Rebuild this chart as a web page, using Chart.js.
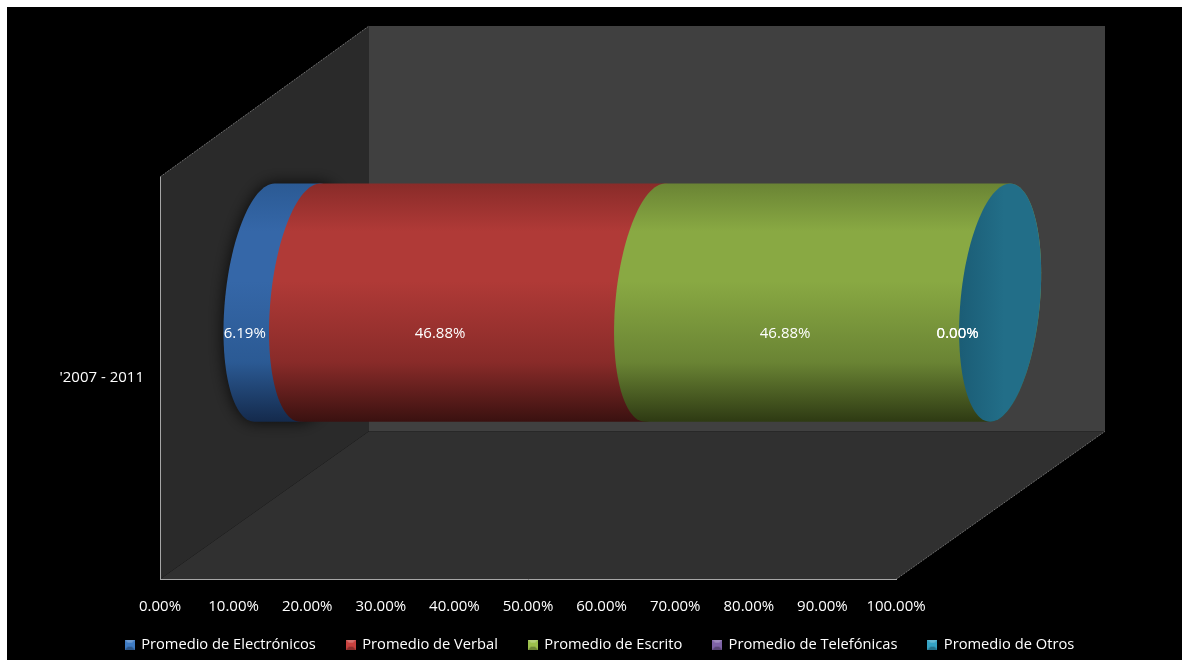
<!DOCTYPE html>
<html>
<head>
<meta charset="utf-8">
<title>Promedio 2007 - 2011</title>
<script src="https://cdn.jsdelivr.net/npm/chart.js@4"></script>
<style>
  html, body { margin: 0; padding: 0; background: #fff; }
  #wrap { width: 1182px; height: 660px; }
</style>
</head>
<body>
<div id="wrap"><canvas id="chart" width="1182" height="660"></canvas></div>
<script>
const categories = ["'2007 - 2011"];
const seriesNames = [
  "Promedio de Electrónicos",
  "Promedio de Verbal",
  "Promedio de Escrito",
  "Promedio de Telefónicas",
  "Promedio de Otros"
];
const electronicos = [6.19];
const verbal = [46.88];
const escrito = [46.88];
const telefonicas = [0];
const otros = [0];
const seriesValues = [electronicos, verbal, escrito, telefonicas, otros];

// light, mid, dark per series, used for the cylinder shading
const seriesColors = [
  ["#2b5a94", "#3567a8", "#142a4c"],
  ["#892b29", "#b03a37", "#3a1110"],
  ["#6a8434", "#89a943", "#2e3a13"],
  ["#5a4478", "#7a5fa3", "#2e2340"],
  ["#1b5d76", "#226e88", "#226e88"]
];
const swatchColors = ["#3f7cc4", "#c8423f", "#9cc04c", "#7f63a8", "#35a3c4"];

const FONT = "'Open Sans', sans-serif";
const depthX = 209;       // how far the back wall sits behind the front plane
const depthTop = 151;
const depthBottom = 148;
const capRx = 39.8;       // cylinder end cap
const capSkew = -10;

function swatch(color) {
  const c = document.createElement("canvas");
  c.width = 10; c.height = 10;
  const g = c.getContext("2d");
  g.fillStyle = color;
  g.fillRect(0, 0, 10, 10);
  g.fillStyle = "rgba(255,255,255,0.25)";
  g.beginPath(); g.moveTo(0, 0); g.lineTo(10, 0); g.lineTo(7, 3); g.lineTo(3, 3); g.fill();
  g.fillStyle = "rgba(0,0,0,0.3)";
  g.beginPath(); g.moveTo(0, 10); g.lineTo(10, 10); g.lineTo(7, 7); g.lineTo(3, 7); g.fill();
  return c;
}

// outline of a segment: left half of the start ellipse, right half of the end ellipse
function segmentPath(ctx, x0, x1, cy, ry) {
  ctx.beginPath();
  for (let d = -90; d >= -270; d -= 3) {
    const t = d * Math.PI / 180;
    ctx.lineTo(x0 + capRx * Math.cos(t) + capSkew * Math.sin(t), cy + ry * Math.sin(t));
  }
  for (let d = 90; d >= -90; d -= 3) {
    const t = d * Math.PI / 180;
    ctx.lineTo(x1 + capRx * Math.cos(t) + capSkew * Math.sin(t), cy + ry * Math.sin(t));
  }
  ctx.closePath();
}

const cylinderPlugin = {
  id: "cylinder",
  afterLayout(chart) {
    // tick labels need the taller axis box, so the legend is pulled back over it
    chart.legend.top -= 11;
    chart.legend.bottom -= 11;
  },
  beforeDraw(chart) {
    const ctx = chart.ctx;
    const a = chart.chartArea;
    ctx.save();
    ctx.fillStyle = "#ffffff";
    ctx.fillRect(0, 0, chart.width, chart.height);
    ctx.fillStyle = "#000000";
    ctx.fillRect(7, 7, chart.width - 7, chart.height - 7);

    // back wall
    ctx.fillStyle = "#404040";
    ctx.fillRect(a.left + depthX, a.top - depthTop, a.width, a.height - depthBottom + depthTop);

    // side wall
    ctx.fillStyle = "#2a2a2a";
    ctx.beginPath();
    ctx.moveTo(a.left, a.top);
    ctx.lineTo(a.left + depthX, a.top - depthTop);
    ctx.lineTo(a.left + depthX, a.bottom - depthBottom);
    ctx.lineTo(a.left, a.bottom);
    ctx.closePath();
    ctx.fill();

    // floor
    ctx.fillStyle = "#303030";
    ctx.beginPath();
    ctx.moveTo(a.left, a.bottom);
    ctx.lineTo(a.right, a.bottom);
    ctx.lineTo(a.right + depthX, a.bottom - depthBottom);
    ctx.lineTo(a.left + depthX, a.bottom - depthBottom);
    ctx.closePath();
    ctx.fill();

    // thin edges on the slanted corners
    ctx.strokeStyle = "#707070";
    ctx.lineWidth = 1;
    ctx.setLineDash([2, 1]);
    ctx.beginPath();
    ctx.moveTo(a.left, a.top);
    ctx.lineTo(a.left + depthX, a.top - depthTop);
    ctx.moveTo(a.right, a.bottom);
    ctx.lineTo(a.right + depthX, a.bottom - depthBottom);
    ctx.stroke();
    ctx.restore();
  },
  beforeDatasetsDraw(chart) {
    const ctx = chart.ctx;
    const offX = depthX / 2;
    const offY = depthTop / 2;
    let last = null;
    seriesValues.forEach((vals, i) => {
      const bar = chart.getDatasetMeta(i).data[0];
      const x0 = bar.base + offX;
      const x1 = bar.x + offX;
      const cy = bar.y - offY;
      const ry = bar.height / 2;
      last = { x1, cy, ry };
      if (vals[0] <= 0) return;

      const col = seriesColors[i];
      const g = ctx.createLinearGradient(0, cy - ry, 0, cy + ry);
      g.addColorStop(0, col[0]);
      g.addColorStop(0.2, col[1]);
      g.addColorStop(0.41, col[1]);
      g.addColorStop(0.75, col[0]);
      g.addColorStop(1, col[2]);

      ctx.save();
      if (i === 0) {
        ctx.shadowColor = "rgba(0,0,0,0.8)";
        ctx.shadowBlur = 16;
      }
      ctx.fillStyle = g;
      segmentPath(ctx, x0, x1, cy, ry);
      ctx.fill();
      ctx.restore();
    });

    // end cap, coloured by the last series
    const capCol = seriesColors[4];
    const cg = ctx.createLinearGradient(last.x1 - capRx, 0, last.x1 + capRx, 0);
    cg.addColorStop(0, capCol[0]);
    cg.addColorStop(0.55, capCol[1]);
    cg.addColorStop(1, capCol[2]);
    ctx.fillStyle = cg;
    segmentPath(ctx, last.x1, last.x1, last.cy, last.ry);
    ctx.fill();
  },
  beforeDatasetDraw() {
    return false;
  },
  afterDatasetsDraw(chart) {
    // percentage labels, shifted into the depth of the plot
    const ctx = chart.ctx;
    ctx.save();
    ctx.font = "15px " + FONT;
    ctx.fillStyle = "#ffffff";
    ctx.textAlign = "center";
    ctx.textBaseline = "middle";
    seriesValues.forEach((vals, i) => {
      const bar = chart.getDatasetMeta(i).data[0];
      ctx.fillText(vals[0].toFixed(2) + "%", (bar.base + bar.x) / 2 + 62, bar.y - 44);
    });
    ctx.restore();
  }
};

new Chart(document.getElementById("chart").getContext("2d"), {
  type: "bar",
  data: {
    labels: categories,
    datasets: seriesNames.map((name, i) => ({
      label: name,
      data: seriesValues[i],
      backgroundColor: swatchColors[i]
    }))
  },
  options: {
    indexAxis: "y",
    responsive: false,
    animation: false,
    barPercentage: 238 / 402,
    categoryPercentage: 1,
    layout: { padding: { left: 18, top: 177, right: 0, bottom: -13 } },
    scales: {
      x: {
        stacked: true,
        min: 0,
        max: 100,
        grid: { display: false },
        border: { display: true, color: "#a6a6a6", width: 1 },
        afterFit(scale) { scale.height = 38; },
        ticks: {
          color: "#ffffff",
          font: { family: FONT, size: 15 },
          padding: 10,
          maxRotation: 0,
          autoSkip: false,
          stepSize: 10,
          callback: v => v.toFixed(2) + "%"
        }
      },
      y: {
        stacked: true,
        grid: { display: false },
        border: { display: true, color: "#a6a6a6", width: 1 },
        afterFit(scale) { scale.width = 142; },
        ticks: {
          color: "#ffffff",
          font: { family: FONT, size: 15 },
          padding: 8
        }
      },
      // empty axis, only holds the gap to the right of the plot
      gap: {
        type: "linear",
        axis: "y",
        position: "right",
        grid: { display: false },
        border: { display: false },
        ticks: { display: false },
        afterFit(scale) { scale.width = 286; }
      }
    },
    plugins: {
      title: { display: false },
      tooltip: { enabled: false },
      legend: {
        position: "bottom",
        labels: {
          color: "#ffffff",
          font: { family: FONT, size: 14.7 },
          boxWidth: 8,
          boxHeight: 10,
          padding: 31,
          usePointStyle: true,
          generateLabels(chart) {
            return Chart.defaults.plugins.legend.labels.generateLabels(chart).map((item, i) => {
              item.pointStyle = swatch(swatchColors[i]);
              return item;
            });
          }
        }
      }
    }
  },
  plugins: [cylinderPlugin]
});
</script>
</body>
</html>
